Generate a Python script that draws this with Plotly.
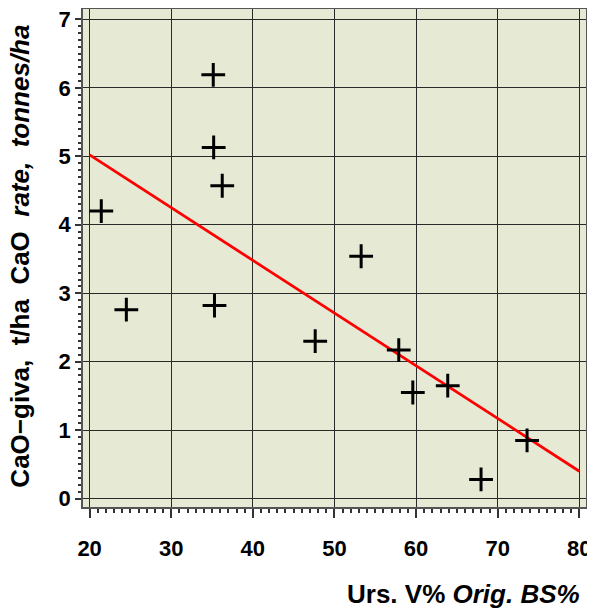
import plotly.graph_objects as go

# data
urs_v = [35.15, 35.2, 36.25, 21.43, 24.5, 35.3, 53.27, 47.64, 57.88, 59.6, 63.88, 67.96, 73.6]
cao_rate = [6.19, 5.13, 4.57, 4.20, 2.76, 2.82, 3.54, 2.30, 2.17, 1.55, 1.65, 0.28, 0.85]
fit_x = [20, 80]
fit_y = [5.02, 0.40]
x_ticks = [20, 30, 40, 50, 60, 70, 80]
y_ticks = [0, 1, 2, 3, 4, 5, 6, 7]

FONT = "Liberation Sans"
fig = go.Figure()
fig.add_trace(go.Scatter(x=fit_x, y=fit_y, mode="lines",
                         line=dict(color="#ff0000", width=2.8), showlegend=False, hoverinfo="skip"))
fig.add_trace(go.Scatter(x=urs_v, y=cao_rate, mode="markers",
                         marker=dict(symbol="cross-thin", size=17, color="black",
                                     line=dict(color="black", width=3)),
                         showlegend=False))

axis_common = dict(showline=True, mirror=True, linecolor="#555555", linewidth=1.5,
                   showgrid=True, gridcolor="#2a2a2a", gridwidth=1, zeroline=False,
                   ticks="outside", tickcolor="#333333", tickwidth=1.5, automargin=False,
                   ticklabeloverflow="allow",
                   tickfont=dict(family=FONT, size=22, color="black"))

fig.update_xaxes(range=[19.19, 80.82], tickmode="array", tickvals=x_ticks,
                 ticktext=[f"<b>{v}</b>" for v in x_ticks], ticklen=9,
                 ticklabelstandoff=12,
                 minor=dict(tickmode="array", tickvals=[v for v in range(20, 81)],
                            ticklen=4, ticks="outside", tickcolor="#333333", showgrid=False),
                 **axis_common)
fig.update_yaxes(range=[-0.123, 7.152], tickmode="array", tickvals=y_ticks,
                 ticktext=[f"<b>{v}</b>" for v in y_ticks], ticklen=6,
                 minor=dict(tickmode="array", tickvals=[i / 10 for i in range(0, 71)],
                            ticklen=3, ticks="outside", tickcolor="#333333", showgrid=False),
                 **axis_common)

fig.update_layout(
    width=587, height=600,
    margin=dict(l=75, r=9, t=1, b=101),
    plot_bgcolor="#e6ead5", paper_bgcolor="white",
    font=dict(family=FONT, color="black"),
    annotations=[
        dict(text="<b>Urs. V% <i>Orig. BS%</i></b>", xref="paper", yref="paper",
             x=0.992, y=-0.175, xanchor="right", yanchor="middle", showarrow=False,
             font=dict(family=FONT, size=26, color="black")),
        dict(text="<b>CaO−giva,  t/ha  CaO  <i>rate,  tonnes/ha</i></b>", xref="paper", yref="paper",
             x=-0.126, y=0.504, xanchor="center", yanchor="middle", textangle=-90, showarrow=False,
             font=dict(family=FONT, size=26, color="black")),
    ],
)

fig.write_html("out.html")
